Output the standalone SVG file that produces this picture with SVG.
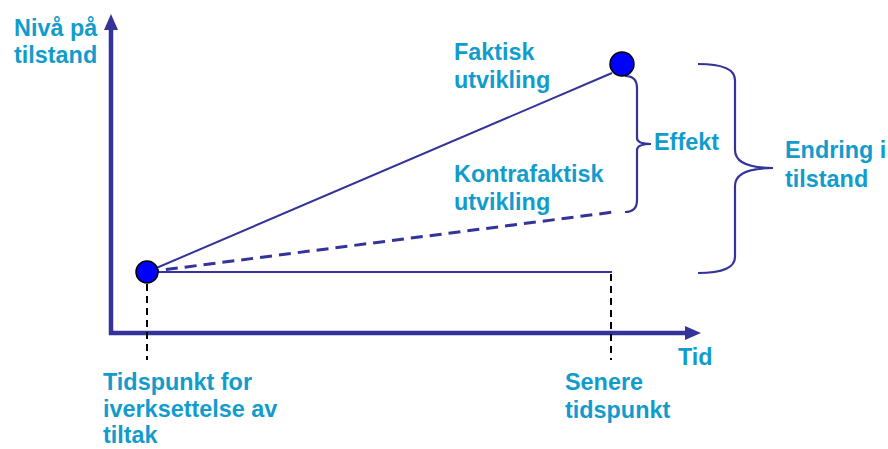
<svg xmlns="http://www.w3.org/2000/svg" width="888" height="449" viewBox="0 0 888 449">
<style>
.t{font-family:"Liberation Sans",Arial,sans-serif;font-weight:bold;font-size:23.4px;fill:#129ccc}
.ax{stroke:#333399;stroke-width:4.5;fill:none}
.ln{stroke:#333399;stroke-width:2;fill:none}
.br{stroke:#333399;stroke-width:2.2;fill:none}
.dk{stroke:#000;stroke-width:2;stroke-dasharray:7,5;fill:none}
.pt{fill:#0000ff;stroke:#000;stroke-width:1.5}
</style>
<rect width="888" height="449" fill="#fff"/>
<g id="connectors">
<polyline class="ax" points="111,28 111,333 688,333"/>
<polygon points="111,14 104,30 118,30" fill="#333399"/>
<polygon points="701,333 685,326 685,340" fill="#333399"/>
<line class="ln" x1="147" y1="272" x2="612" y2="73"/>
<line class="ln" x1="147" y1="272" x2="612" y2="272"/>
<line x1="147" y1="272" x2="614" y2="212" stroke="#333399" stroke-width="3" stroke-dasharray="12,7"/>
<line class="dk" x1="147" y1="284" x2="147" y2="360"/>
<line class="dk" x1="611" y1="274" x2="611" y2="360"/>
<path class="br" d="M625,76 Q637,76 637,88 L637,138 Q637,144 651,144 Q637,144 637,150 L637,200 Q637,212 625,212"/>
<path class="br" d="M698,64 Q735,64 735,80 L735,150 Q735,168 773,168 Q735,168 735,186 L735,257 Q735,273 698,273"/>
</g>
<g id="node-start"><circle class="pt" cx="147" cy="272" r="11"/></g>
<g id="node-end"><circle class="pt" cx="622" cy="64" r="12"/></g>
<g id="label-y"><text class="t" x="14" y="36">Nivå på</text><text class="t" x="14" y="63">tilstand</text></g>
<g id="label-faktisk"><text class="t" x="454" y="60">Faktisk</text><text class="t" x="454" y="88">utvikling</text></g>
<g id="label-kontra"><text class="t" x="454" y="182">Kontrafaktisk</text><text class="t" x="454" y="210">utvikling</text></g>
<g id="label-effekt"><text class="t" x="654" y="150">Effekt</text></g>
<g id="label-endring"><text class="t" x="785" y="158">Endring i</text><text class="t" x="785" y="187">tilstand</text></g>
<g id="label-tid"><text class="t" x="678" y="365">Tid</text></g>
<g id="label-tidspunkt"><text class="t" x="103" y="390">Tidspunkt for</text><text class="t" x="103" y="417">iverksettelse av</text><text class="t" x="103" y="443">tiltak</text></g>
<g id="label-senere"><text class="t" x="565" y="390">Senere</text><text class="t" x="565" y="418">tidspunkt</text></g>
</svg>
